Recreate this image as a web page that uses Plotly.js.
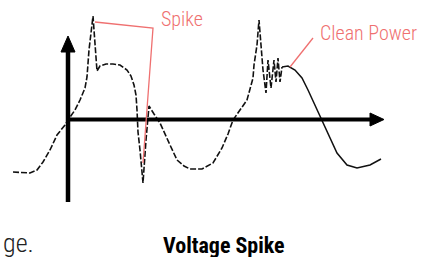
<!DOCTYPE html>
<html>
<head>
<meta charset="utf-8">
<script src="https://cdn.plot.ly/plotly-3.0.1.min.js"></script>
<style>html,body{margin:0;padding:0;background:#fff;}#chart{width:430px;height:257px;}</style>
</head>
<body>
<div id="chart"></div>
<script>
// Waveform: time (t) and voltage (v), origin at axis crossing
const spikeT = [-55,-38,-31,-25,-18,-11,-3,0,7,12,17,19,21,23,25,26,29,32,38,45,52,59,63,66,68,69,70,72,74,75,78,81,86,92,102,109,116,122,134,145,154,160,165,172,179,185,186,189,191,193,195,198,200,203,206,208,210,212,214];
const spikeV = [-52,-53,-50,-42,-30,-15,-5,0,10,20,32,43,70,87,104,90,49,54,56,56,55,50,44,35,25,10,-12,-30,-52,-63,-20,14,6,-3,-25,-40,-46,-49,-49,-43,-28,-14,0,10,20,42,55,75,100,75,50,27,60,32,60,38,62,38,53];
const cleanT = [214,220,227,234,240,247,254,262,269,279,289,302,313];
const cleanV = [53,54,50,42,30,15,0,-17,-33,-45,-48,-45,-39];
const labels = ["Spike", "Clean Power", "Voltage Spike", "ge."];

const red = "#ef7070";
const fontNarrow = "Liberation Sans Narrow, Roboto Condensed, DejaVu Sans Condensed, sans-serif";

const traces = [
  {x: spikeT, y: spikeV, mode: "lines", line: {color: "#111", width: 1.6, dash: "6px,2px"}, hoverinfo: "skip"},
  {x: cleanT, y: cleanV, mode: "lines", line: {color: "#111", width: 1.5}, hoverinfo: "skip"}
];

const layout = {
  width: 430, height: 257,
  margin: {l: 0, r: 0, t: 0, b: 0},
  paper_bgcolor: "#fff", plot_bgcolor: "#fff",
  showlegend: false,
  xaxis: {range: [-68, 362], visible: false, fixedrange: true},
  yaxis: {range: [-137, 120], visible: false, fixedrange: true},
  shapes: [
    {type: "line", xref: "x", yref: "y", x0: 0, x1: 303, y0: 0.5, y1: 0.5, line: {color: "#000", width: 4}},
    {type: "path", xref: "x", yref: "y", path: "M 302,7 L 316,0.5 L 302,-6 Z", fillcolor: "#000", line: {color: "#000", width: 1}},
    {type: "line", xref: "x", yref: "y", x0: 0, x1: 0, y0: -82, y1: 69, line: {color: "#000", width: 4.5}},
    {type: "path", xref: "x", yref: "y", path: "M -7,68 L 0,84 L 7,68 Z", fillcolor: "#000", line: {color: "#000", width: 1}},
    {type: "path", xref: "x", yref: "y", path: "M 27,98 L 85,92 L 75,-43", line: {color: red, width: 1.3}},
    {type: "line", xref: "x", yref: "y", x0: 222, y0: 53, x1: 245, y1: 82, line: {color: red, width: 1.3}}
  ],
  annotations: [
    {text: labels[0], xref: "x", yref: "y", x: 91, y: 101, xanchor: "left", yanchor: "middle", showarrow: false, font: {family: fontNarrow, size: 20, color: red, weight: 300}},
    {text: labels[1], xref: "x", yref: "y", x: 250, y: 87, xanchor: "left", yanchor: "middle", showarrow: false, font: {family: fontNarrow, size: 20, color: red, weight: 300}},
    {text: labels[2], xref: "x", yref: "y", x: 156, y: -125, xanchor: "center", yanchor: "middle", showarrow: false, font: {family: fontNarrow, size: 22, color: "#000", weight: "bold"}},
    {text: labels[3], xref: "x", yref: "y", x: -67, y: -123, xanchor: "left", yanchor: "middle", showarrow: false, font: {family: fontNarrow, size: 26, color: "#222", weight: 300}}
  ],
  hovermode: false
};

Plotly.newPlot("chart", traces, layout, {staticPlot: true, displayModeBar: false});
</script>
</body>
</html>
